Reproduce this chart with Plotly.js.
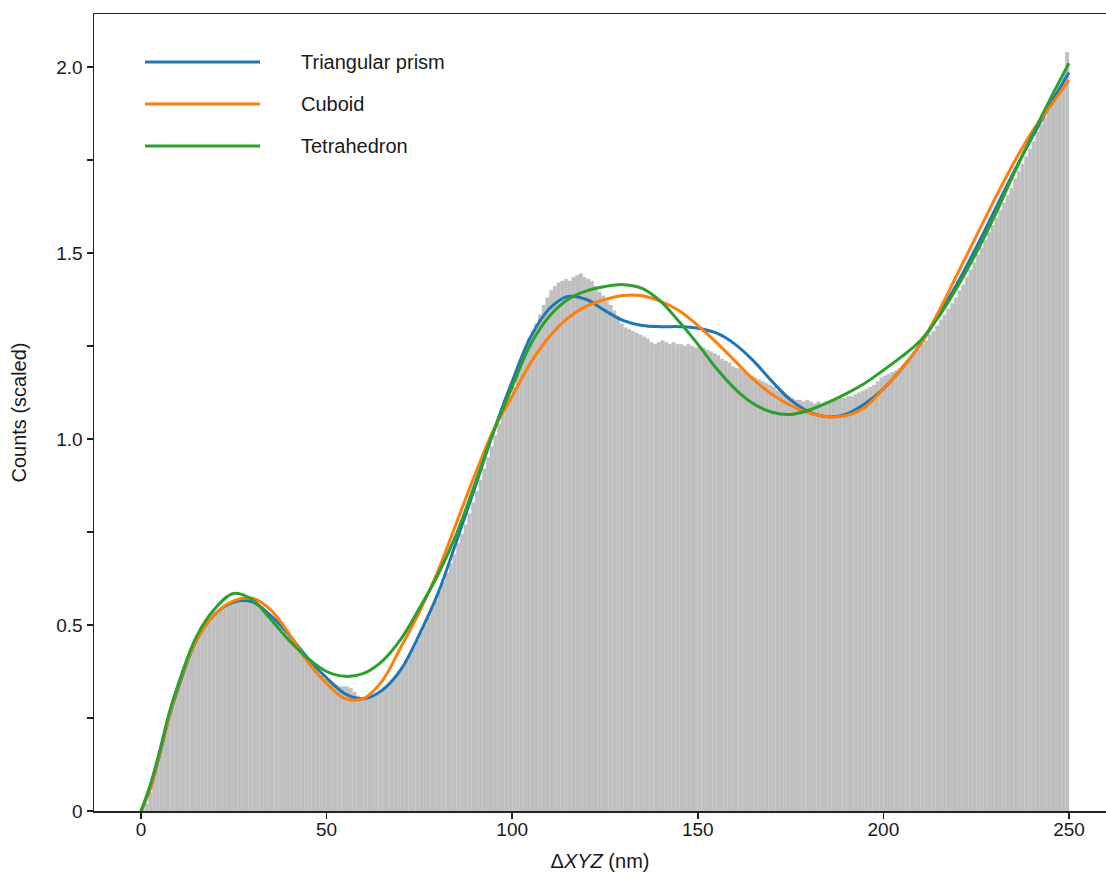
<!DOCTYPE html>
<html>
<head>
<meta charset="utf-8">
<script src="https://cdn.plot.ly/plotly-3.0.1.min.js"></script>
<style>html,body{margin:0;padding:0;background:#fff;}#chart{width:1106px;height:877px;}</style>
</head>
<body>
<div id="chart"></div>
<script>
// Histogram: 1 nm bins starting at 0 nm (bin i covers [i, i+1))
const binStart = 0;
const binWidth = 1;
const histCounts = [
0.005,0.02,0.05,0.09,0.13,0.17,0.21,0.25,0.29,0.32,
0.35,0.38,0.41,0.43,0.45,0.47,0.49,0.50,0.51,0.52,
0.53,0.54,0.55,0.555,0.56,0.565,0.565,0.57,0.57,0.565,
0.56,0.555,0.55,0.54,0.53,0.515,0.505,0.49,0.48,0.465,
0.455,0.44,0.43,0.42,0.405,0.395,0.385,0.375,0.365,0.355,
0.35,0.345,0.34,0.335,0.335,0.335,0.33,0.32,0.31,0.305,
0.305,0.305,0.31,0.315,0.32,0.33,0.34,0.35,0.36,0.375,
0.39,0.405,0.42,0.44,0.46,0.48,0.50,0.52,0.545,0.565,
0.59,0.615,0.64,0.665,0.69,0.72,0.745,0.77,0.80,0.83,
0.86,0.89,0.92,0.95,0.98,1.01,1.04,1.065,1.09,1.115,
1.14,1.175,1.21,1.24,1.27,1.29,1.31,1.335,1.36,1.38,
1.40,1.41,1.42,1.425,1.43,1.425,1.435,1.44,1.445,1.435,
1.43,1.425,1.41,1.395,1.385,1.37,1.36,1.345,1.33,1.31,
1.30,1.295,1.29,1.285,1.28,1.275,1.27,1.26,1.255,1.26,
1.265,1.26,1.255,1.26,1.255,1.255,1.25,1.255,1.25,1.245,
1.25,1.245,1.24,1.235,1.23,1.225,1.215,1.21,1.205,1.195,
1.19,1.19,1.18,1.175,1.17,1.165,1.16,1.155,1.15,1.145,
1.14,1.13,1.125,1.12,1.115,1.11,1.105,1.105,1.10,1.105,
1.10,1.095,1.10,1.095,1.10,1.10,1.105,1.105,1.11,1.11,
1.115,1.115,1.12,1.125,1.13,1.135,1.14,1.145,1.155,1.165,
1.17,1.175,1.18,1.185,1.19,1.20,1.21,1.22,1.23,1.24,
1.255,1.265,1.28,1.29,1.305,1.32,1.335,1.35,1.365,1.38,
1.40,1.415,1.435,1.455,1.475,1.495,1.515,1.535,1.555,1.575,
1.595,1.615,1.635,1.655,1.675,1.70,1.72,1.74,1.76,1.78,
1.80,1.825,1.845,1.865,1.885,1.905,1.925,1.945,1.98,2.04
];

// Fitted model curves (sampled)
const curveX = [0,2.5,5,7.5,10,15,20,25,30,35,40,45,50,55,60,65,70,75,80,85,90,95,100,105,110,115,120,125,130,135,140,145,150,155,160,165,170,175,180,185,190,195,200,205,210,215,220,225,230,235,240,245,250];
const triangularPrism = [0,0.06,0.15,0.25,0.33,0.46,0.53,0.562,0.562,0.525,0.472,0.41,0.358,0.315,0.302,0.325,0.38,0.475,0.585,0.725,0.87,1.02,1.155,1.275,1.35,1.383,1.375,1.345,1.318,1.305,1.302,1.302,1.298,1.285,1.255,1.21,1.155,1.105,1.073,1.06,1.067,1.095,1.135,1.19,1.255,1.335,1.42,1.515,1.615,1.715,1.81,1.90,1.985];
const cuboid = [0,0.06,0.155,0.25,0.335,0.46,0.53,0.565,0.572,0.54,0.475,0.40,0.343,0.302,0.303,0.35,0.44,0.535,0.645,0.775,0.905,1.025,1.115,1.205,1.275,1.325,1.357,1.375,1.386,1.385,1.37,1.345,1.305,1.26,1.21,1.16,1.12,1.09,1.07,1.06,1.063,1.085,1.135,1.19,1.255,1.345,1.445,1.545,1.645,1.74,1.825,1.895,1.965];
const tetrahedron = [0,0.07,0.16,0.26,0.34,0.47,0.545,0.585,0.568,0.515,0.458,0.41,0.375,0.362,0.37,0.403,0.462,0.545,0.635,0.745,0.88,1.02,1.14,1.255,1.33,1.375,1.398,1.41,1.415,1.405,1.37,1.315,1.255,1.19,1.135,1.095,1.072,1.066,1.078,1.098,1.122,1.15,1.185,1.222,1.265,1.33,1.41,1.50,1.60,1.71,1.815,1.915,2.01];

const seriesNames = ['Triangular prism', 'Cuboid', 'Tetrahedron'];
const seriesColors = ['#1f77b4', '#ff7f0e', '#2ca02c'];
const seriesData = [triangularPrism, cuboid, tetrahedron];

const yTickVals = [0, 0.5, 1.0, 1.5, 2.0];
const yTickText = ['0', '0.5', '1.0', '1.5', '2.0'];
const xTickVals = [0, 50, 100, 150, 200, 250];

const binCenters = histCounts.map((_, i) => binStart + (i + 0.5) * binWidth);

const traces = [{
  type: 'bar',
  x: binCenters,
  y: histCounts,
  width: binWidth,
  marker: {color: '#bfbfbf', line: {color: '#c6c6c6', width: 0.3}},
  showlegend: false,
  hoverinfo: 'x+y'
}];
seriesData.forEach((d, k) => {
  traces.push({
    type: 'scatter', mode: 'lines',
    x: curveX, y: d, name: seriesNames[k],
    line: {color: seriesColors[k], width: 3, shape: 'spline', smoothing: 1},
    showlegend: false
  });
});

// Manual legend (long sample lines like the original)
const W = 1106, H = 877, mL = 94, mR = 0, mT = 14, mB = 66;
const pw = W - mL - mR, ph = H - mT - mB;
const px2x = p => (p - mL) / pw;
const py2y = p => (H - mB - p) / ph;
const legendRows = [62, 104, 146];
const shapes = [], annotations = [];
seriesNames.forEach((n, k) => {
  shapes.push({type: 'line', xref: 'paper', yref: 'paper',
    x0: px2x(145), x1: px2x(260), y0: py2y(legendRows[k]), y1: py2y(legendRows[k]),
    line: {color: seriesColors[k], width: 3}});
  annotations.push({xref: 'paper', yref: 'paper', x: px2x(299), y: py2y(legendRows[k]),
    xanchor: 'left', yanchor: 'middle', text: n, showarrow: false,
    font: {family: 'Liberation Sans, Arial, sans-serif', size: 20, color: '#1a1a1a'}});
});

const fontFam = 'Liberation Sans, Arial, sans-serif';
const layout = {
  width: W, height: H,
  margin: {l: mL, r: mR, t: mT, b: mB, pad: 0},
  paper_bgcolor: '#fff', plot_bgcolor: '#fff',
  bargap: 0,
  showlegend: false,
  font: {family: fontFam, size: 19, color: '#1a1a1a'},
  xaxis: {
    range: [-12.66, 259.97],
    tickvals: xTickVals,
    ticks: 'outside', ticklen: 6, tickwidth: 1.5, tickcolor: '#222',
    ticklabelstandoff: -5,
    showline: true, linecolor: '#222', linewidth: 1.5, mirror: true,
    showgrid: false, zeroline: false,
    tickfont: {size: 19},
    title: {text: 'Δ<i>XYZ</i> (nm)', font: {size: 20}, standoff: 14}
  },
  yaxis: {
    range: [0, 2.1425],
    tickvals: yTickVals, ticktext: yTickText,
    ticks: 'outside', ticklen: 6, tickwidth: 1.5, tickcolor: '#222',
    minor: {dtick: 0.25, tick0: 0, ticks: 'outside', ticklen: 6, tickwidth: 1.5, tickcolor: '#222', showgrid: false},
    showline: true, linecolor: '#222', linewidth: 1.5, mirror: false,
    showgrid: false, zeroline: false,
    tickfont: {size: 19},
    title: {text: 'Counts (scaled)', font: {size: 20}, standoff: 24}
  },
  shapes: shapes,
  annotations: annotations
};

Plotly.newPlot('chart', traces, layout, {displayModeBar: false, staticPlot: true});
</script>
</body>
</html>
